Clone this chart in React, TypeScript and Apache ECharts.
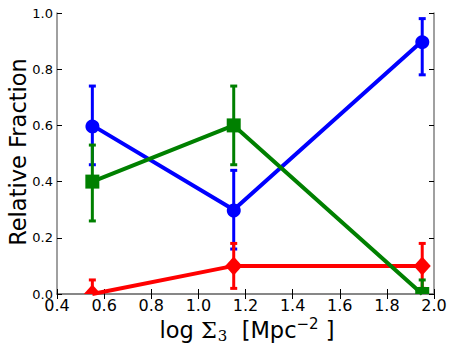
import React, { useEffect, useRef } from "react";
import * as echarts from "echarts";

const xValues = [0.55, 1.15, 1.95];
const blueValues = [0.6, 0.3, 0.9];
const blueLow = [0.46, 0.16, 0.78];
const blueHigh = [0.74, 0.44, 0.98];
const greenValues = [0.4, 0.6, 0.0];
const greenLow = [0.26, 0.46, 0.0];
const greenHigh = [0.53, 0.74, 0.05];
const redValues = [0.0, 0.1, 0.1];
const redLow = [0.0, 0.02, 0.02];
const redHigh = [0.05, 0.18, 0.18];

const BLUE = "#0000ff";
const GREEN = "#008000";
const RED = "#ff0000";

function errSeries(color: string, low: number[], high: number[], z: number) {
  return {
    type: "custom",
    z,
    silent: true,
    clip: true,
    data: xValues.map((x, i) => [x, low[i], high[i]]),
    renderItem: (params: any, api: any) => {
      const x = api.value(0);
      const lo = api.coord([x, api.value(1)]);
      const hi = api.coord([x, api.value(2)]);
      const cw = 3.5;
      const style = { stroke: color, lineWidth: 3 };
      return {
        type: "group",
        children: [
          { type: "line", shape: { x1: lo[0], y1: lo[1], x2: hi[0], y2: hi[1] }, style },
          { type: "line", shape: { x1: hi[0] - cw, y1: hi[1], x2: hi[0] + cw, y2: hi[1] }, style },
          { type: "line", shape: { x1: lo[0] - cw, y1: lo[1], x2: lo[0] + cw, y2: lo[1] }, style },
        ],
      };
    },
  };
}

function lineSeries(color: string, vals: number[], z: number) {
  return {
    type: "line",
    z,
    data: xValues.map((x, i) => [x, vals[i]]),
    symbol: "none",
    lineStyle: { color, width: 4 },
    itemStyle: { color },
    clip: true,
  };
}

function markerSeries(color: string, vals: number[], kind: string, size: number, z: number) {
  return {
    type: "custom",
    z,
    silent: true,
    clip: true,
    data: xValues.map((x, i) => [x, vals[i]]),
    renderItem: (params: any, api: any) => {
      const p = api.coord([api.value(0), api.value(1)]);
      const style = { fill: color };
      const r = size / 2;
      if (kind === "circle") return { type: "circle", shape: { cx: p[0], cy: p[1], r }, style };
      if (kind === "rect") return { type: "rect", shape: { x: p[0] - r, y: p[1] - r, width: size, height: size }, style };
      return {
        type: "polygon",
        shape: { points: [[p[0], p[1] - r], [p[0] + r * 0.9, p[1]], [p[0], p[1] + r], [p[0] - r * 0.9, p[1]]] },
        style,
      };
    },
  };
}

export default function App() {
  const ref = useRef<HTMLDivElement>(null);
  useEffect(() => {
    const chart = echarts.init(ref.current!, null, { renderer: "svg" });
    const tickStyle = { show: true, inside: true, length: 5, lineStyle: { color: "#000", width: 1 } };
    const axisLine = { show: true, lineStyle: { color: "#808080", width: 1.5 } };
    const font = "DejaVu Sans";
    chart.setOption({
      animation: false,
      backgroundColor: "#fff",
      grid: { left: 57, right: 16, top: 13, bottom: 56, containLabel: false },
      xAxis: [
        {
          type: "value", min: 0.4, max: 2.0, interval: 0.2, position: "bottom",
          axisLine, axisTick: tickStyle, splitLine: { show: false },
          axisLabel: { color: "#000", fontFamily: font, fontSize: 16, margin: 3, formatter: (v: number) => v.toFixed(1) },
        },
        {
          type: "value", min: 0.4, max: 2.0, interval: 0.2, position: "top",
          axisLine, axisTick: tickStyle, splitLine: { show: false }, axisLabel: { show: false },
        },
      ],
      yAxis: [
        {
          type: "value", min: 0, max: 1, interval: 0.2, position: "left",
          axisLine, axisTick: tickStyle, splitLine: { show: false },
          axisLabel: { color: "#000", fontFamily: font, fontSize: 13, margin: 4, formatter: (v: number) => v.toFixed(1) },
        },
        {
          type: "value", min: 0, max: 1, interval: 0.2, position: "right",
          axisLine, axisTick: tickStyle, splitLine: { show: false }, axisLabel: { show: false },
        },
      ],
      series: [
        lineSeries(BLUE, blueValues, 2),
        errSeries(BLUE, blueLow, blueHigh, 2),
        markerSeries(BLUE, blueValues, "circle", 14, 3),
        lineSeries(RED, redValues, 4),
        errSeries(RED, redLow, redHigh, 4),
        markerSeries(RED, redValues, "diamond", 19, 5),
        lineSeries(GREEN, greenValues, 6),
        errSeries(GREEN, greenLow, greenHigh, 6),
        markerSeries(GREEN, greenValues, "rect", 14, 7),
      ],
      graphic: [
        {
          type: "text",
          x: 18, y: 152, rotation: Math.PI / 2,
          style: { text: "Relative Fraction", fontFamily: font, fontSize: 22.5, fill: "#000", align: "center", verticalAlign: "middle" },
        },
        {
          type: "text",
          x: 247, y: 330,
          style: {
            text: "{a|log }{s|Σ}{sub|3}{a|  [Mpc}{sup|−2}{a| ]}",
            align: "center", verticalAlign: "middle", fill: "#000",
            rich: {
              a: { fontFamily: font, fontSize: 22.5, fill: "#000" },
              s: { fontFamily: "DejaVu Serif", fontSize: 22.5, fill: "#000" },
              sub: { fontFamily: "DejaVu Serif", fontSize: 15, fill: "#000", verticalAlign: "bottom", padding: [12, 0, 0, 1] },
              sup: { fontFamily: font, fontSize: 15, fill: "#000", verticalAlign: "top", padding: [0, 0, 12, 0] },
            },
          },
        },
      ],
    });
    return () => chart.dispose();
  }, []);
  return <div ref={ref} style={{ width: 450, height: 350, position: "absolute", left: 0, top: 0 }} />;
}
